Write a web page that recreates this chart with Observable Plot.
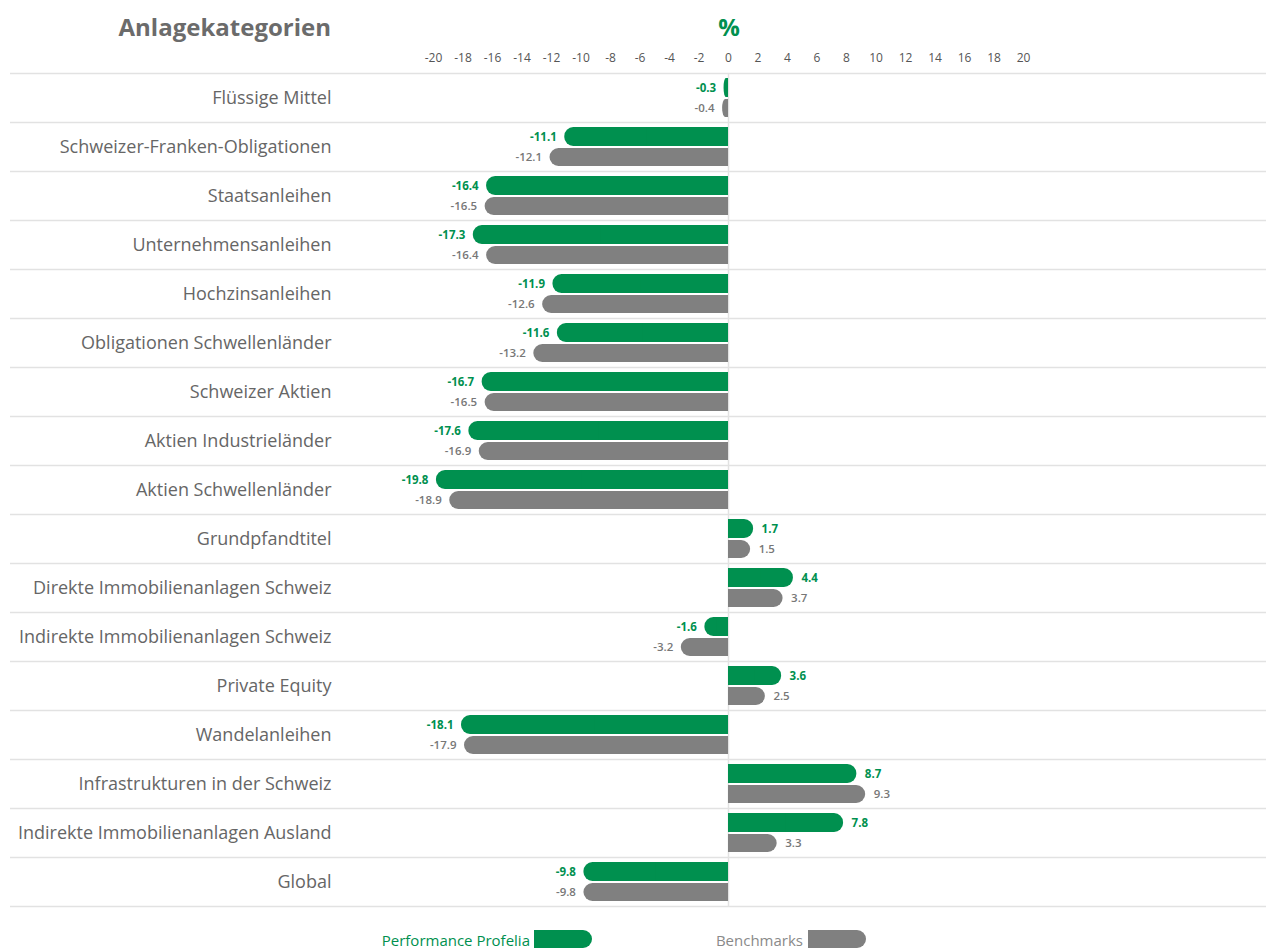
<!DOCTYPE html>
<html>
<head>
<meta charset="utf-8">
<script src="https://cdn.jsdelivr.net/npm/d3@7"></script>
<script src="https://cdn.jsdelivr.net/npm/@observablehq/plot@0.6"></script>
<style>
  body { margin: 0; background: #fff; font-family: "Open Sans", sans-serif; width: 1266px; height: 948px; overflow: hidden; position: relative; }
  #title { position: absolute; right: calc(1266px - 331px); top: 10px; font-size: 24px; font-weight: bold; color: #6b6b6b; white-space: nowrap; }
  #unit { position: absolute; left: 729px; transform: translateX(-50%); top: 10px; font-size: 24px; font-weight: bold; color: #00904f; }
  #chart { position: absolute; left: 0; top: 45px; }
  .leg { position: absolute; top: 931px; height: 19px; line-height: 19px; font-size: 15px; white-space: nowrap; }
  .sw { position: absolute; top: 930px; width: 58px; height: 18px; border-radius: 0 9px 9px 0; }
</style>
</head>
<body>
<div id="title">Anlagekategorien</div>
<div id="unit">%</div>
<div id="chart"></div>
<div class="leg" style="right:calc(1266px - 530px);color:#00904f">Performance Profelia</div>
<span class="sw" style="left:534px;background:#00904f"></span>
<div class="leg" style="right:calc(1266px - 803px);color:#8a8a8a">Benchmarks</div>
<span class="sw" style="left:808px;background:#808080"></span>
<script>
const categories = [
  "Flüssige Mittel",
  "Schweizer-Franken-Obligationen",
  "Staatsanleihen",
  "Unternehmensanleihen",
  "Hochzinsanleihen",
  "Obligationen Schwellenländer",
  "Schweizer Aktien",
  "Aktien Industrieländer",
  "Aktien Schwellenländer",
  "Grundpfandtitel",
  "Direkte Immobilienanlagen Schweiz",
  "Indirekte Immobilienanlagen Schweiz",
  "Private Equity",
  "Wandelanleihen",
  "Infrastrukturen in der Schweiz",
  "Indirekte Immobilienanlagen Ausland",
  "Global"
];
const profelia = [-0.3, -11.1, -16.4, -17.3, -11.9, -11.6, -16.7, -17.6, -19.8, 1.7, 4.4, -1.6, 3.6, -18.1, 8.7, 7.8, -9.8];
const benchmarks = [-0.4, -12.1, -16.5, -16.4, -12.6, -13.2, -16.5, -16.9, -18.9, 1.5, 3.7, -3.2, 2.5, -17.9, 9.3, 3.3, -9.8];
const xTicks = [-20, -18, -16, -14, -12, -10, -8, -6, -4, -2, 0, 2, 4, 6, 8, 10, 12, 14, 16, 18, 20];

const GREEN = "#00904f";
const GRAY = "#808080";
const data = categories.map((c, i) => ({cat: c, p: profelia[i], b: benchmarks[i]}));
const fmt = v => v.toFixed(1);

const gTop = {insetTop: 5, insetBottom: 25};
const bTop = {insetTop: 26, insetBottom: 5};

const chart = Plot.plot({
  width: 1266,
  height: 862,
  marginTop: 28,
  marginBottom: 1,
  marginLeft: 433,
  marginRight: 243,
  style: {fontFamily: "Open Sans, sans-serif", color: "#555", background: "transparent", overflow: "visible"},
  x: {domain: [-20, 20], axis: null},
  y: {domain: categories, padding: 0, axis: null},
  marks: [
    Plot.ruleY(categories, {y: d => d, dy: -24.5, stroke: "#e2e2e2", strokeWidth: 1.5, insetLeft: -423, insetRight: -243}),
    Plot.ruleY([categories[categories.length - 1]], {y: d => d, dy: 24.5, stroke: "#e2e2e2", strokeWidth: 1.5, insetLeft: -423, insetRight: -243}),
    Plot.ruleX([0], {stroke: "#e2e2e2", strokeWidth: 1.5}),
    Plot.barX(data, {x: "p", y: "cat", fill: GREEN, rx: 9, ...gTop}),
    Plot.barX(data, {x: d => d.p / 2, y: "cat", fill: GREEN, ...gTop}),
    Plot.barX(data, {x: "b", y: "cat", fill: GRAY, rx: 9, ...bTop}),
    Plot.barX(data, {x: d => d.b / 2, y: "cat", fill: GRAY, ...bTop}),
    Plot.text(data.filter(d => d.p < 0), {x: "p", y: "cat", text: d => fmt(d.p), dy: -10, dx: -8, textAnchor: "end", fill: GREEN, fontWeight: "bold", fontSize: 11.5}),
    Plot.text(data.filter(d => d.p >= 0), {x: "p", y: "cat", text: d => fmt(d.p), dy: -10, dx: 8, textAnchor: "start", fill: GREEN, fontWeight: "bold", fontSize: 11.5}),
    Plot.text(data.filter(d => d.b < 0), {x: "b", y: "cat", text: d => fmt(d.b), dy: 10.5, dx: -8, textAnchor: "end", fill: "#777", fontWeight: 600, fontSize: 11.5}),
    Plot.text(data.filter(d => d.b >= 0), {x: "b", y: "cat", text: d => fmt(d.b), dy: 10.5, dx: 8, textAnchor: "start", fill: "#777", fontWeight: 600, fontSize: 11.5}),
    Plot.axisX({anchor: "top", ticks: xTicks, tickSize: 0, tickPadding: 12, tickFormat: d => String(d), fontSize: 12, fill: "#555", label: null}),
    Plot.axisY({anchor: "left", tickSize: 0, tickPadding: 102, fontSize: 18, fill: "#666", label: null})
  ]
});
document.getElementById("chart").appendChild(chart);
</script>
</body>
</html>
